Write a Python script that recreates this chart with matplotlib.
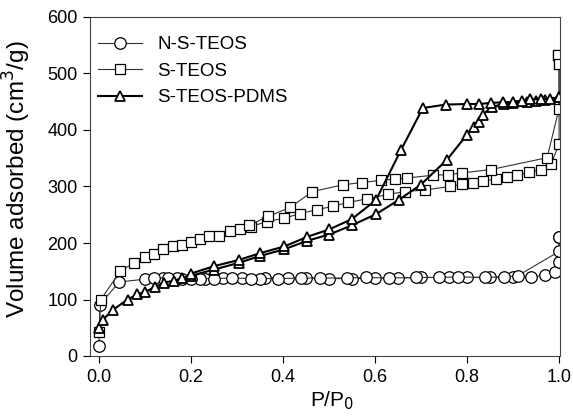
import matplotlib
matplotlib.use('Agg')
import matplotlib.pyplot as plt

plt.rcParams['font.family'] = ['Liberation Sans', 'DejaVu Sans']

# N-S-TEOS (circles)
ns_ads_x = [0.0, 0.002, 0.044, 0.1, 0.14, 0.18, 0.23, 0.27, 0.31, 0.36, 0.41, 0.45, 0.5,
            0.55, 0.6, 0.65, 0.7, 0.76, 0.8, 0.85, 0.9, 0.94, 0.97, 0.992, 1.0, 1.0]
ns_ads_y = [17, 91, 131, 136, 138, 137, 137, 138, 138, 138, 138, 138, 137,
            137, 138, 138, 139, 139, 139, 139, 140, 140, 143, 148, 166, 211]
ns_des_x = [1.0, 1.0, 0.91, 0.88, 0.84, 0.78, 0.74, 0.69, 0.63, 0.58, 0.54, 0.48,
            0.44, 0.39, 0.35, 0.33, 0.29, 0.25, 0.22, 0.2, 0.17, 0.15, 0.12]
ns_des_y = [211, 185, 142, 140, 139, 140, 139, 139, 138, 139, 138, 138,
            138, 137, 137, 137, 138, 137, 137, 137, 138, 138, 138]

# S-TEOS (squares)
s_ads_x = [0.0, 0.004, 0.046, 0.076, 0.1, 0.12, 0.14, 0.16, 0.18, 0.2, 0.22, 0.24, 0.26,
           0.285, 0.307, 0.33, 0.365, 0.403, 0.437, 0.473, 0.509, 0.542, 0.583, 0.628,
           0.665, 0.709, 0.763, 0.788, 0.812, 0.834, 0.862, 0.886, 0.909, 0.935, 0.96,
           0.983, 1.0, 1.0, 0.998]
s_ads_y = [42, 100, 150, 165, 175, 181, 189, 194, 197, 202, 207, 212, 213,
           222, 225, 229, 238, 244, 252, 259, 265, 272, 278, 286,
           291, 294, 300, 304, 307, 310, 313, 316, 320, 325, 330,
           340, 376, 517, 532]
s_des_x = [0.998, 1.0, 1.0, 0.974, 0.852, 0.789, 0.759, 0.726, 0.669, 0.643, 0.614,
           0.571, 0.53, 0.464, 0.415, 0.368, 0.327]
s_des_y = [532, 517, 438, 351, 330, 324, 321, 320, 315, 313, 311,
           307, 303, 291, 263, 247, 232]

# S-TEOS-PDMS (triangles)
p_ads_x = [0.0, 0.008, 0.031, 0.062, 0.083, 0.101, 0.122, 0.141, 0.162, 0.181, 0.2, 0.25,
           0.304, 0.35, 0.403, 0.453, 0.5, 0.549, 0.602, 0.651, 0.699, 0.756, 0.8,
           0.814, 0.825, 0.834, 0.854, 0.88, 0.9, 0.93, 0.95, 0.97, 1.0]
p_ads_y = [50, 64, 82, 100, 109, 114, 122, 130, 133, 138, 142, 153,
           165, 177, 189, 204, 215, 231, 251, 276, 303, 347, 392,
           406, 415, 427, 441, 446, 448, 450, 452, 453, 458]
p_des_x = [1.0, 0.98, 0.96, 0.937, 0.919, 0.9, 0.879, 0.851, 0.827, 0.8, 0.754, 0.704,
           0.656, 0.602, 0.549, 0.5, 0.453, 0.403, 0.35, 0.304, 0.25, 0.2]
p_des_y = [458, 455, 455, 454, 452, 450, 449, 448, 446, 446, 445, 439,
           364, 276, 242, 224, 211, 194, 182, 170, 159, 146]

fig = plt.figure(figsize=(5.73, 4.17), dpi=100)
ax = fig.add_axes([90 / 573, 1 - 356 / 417, 470 / 573, 339 / 417])

thin = dict(color='#333333', lw=0.8, mfc='white', mec='black', mew=0.9)
thick = dict(color='black', lw=1.5, mfc='white', mec='black', mew=1.3)

ax.plot(ns_ads_x, ns_ads_y, marker='o', ms=8.3, label='N-S-TEOS', **thin)
ax.plot(ns_des_x, ns_des_y, marker='o', ms=8.3, **thin)
ax.plot(s_ads_x, s_ads_y, marker='s', ms=6.5, label='S-TEOS', **thin)
ax.plot(s_des_x, s_des_y, marker='s', ms=6.5, **thin)
ax.plot(p_ads_x, p_ads_y, marker='^', ms=7.5, label='S-TEOS-PDMS', **thick)
ax.plot(p_des_x, p_des_y, marker='^', ms=7.5, **thick)

ax.set_xlim(-0.0196, 1.002)
ax.set_ylim(0, 600)
ax.set_xticks([0.0, 0.2, 0.4, 0.6, 0.8, 1.0])
ax.set_yticks(range(0, 601, 100))
ax.tick_params(direction='out', length=5, labelsize=13, top=False, right=False, pad=4)
for s in ax.spines.values():
    s.set_color('#444444')

ax.set_xlabel('P/P$_0$', fontsize=15)
ax.set_ylabel('Volume adsorbed (cm$^3$/g)', fontsize=17.5)
ax.xaxis.set_label_coords(0.515, -0.098)
ax.yaxis.set_label_coords(-0.121, 0.522)

ax.legend(loc='upper left', bbox_to_anchor=(0.005, 0.9605), borderaxespad=0,
          frameon=False, fontsize=13.5, handlelength=2.35,
          labelspacing=0.5, handletextpad=0.8, borderpad=0.3)

fig.savefig('out.png', dpi=100)
